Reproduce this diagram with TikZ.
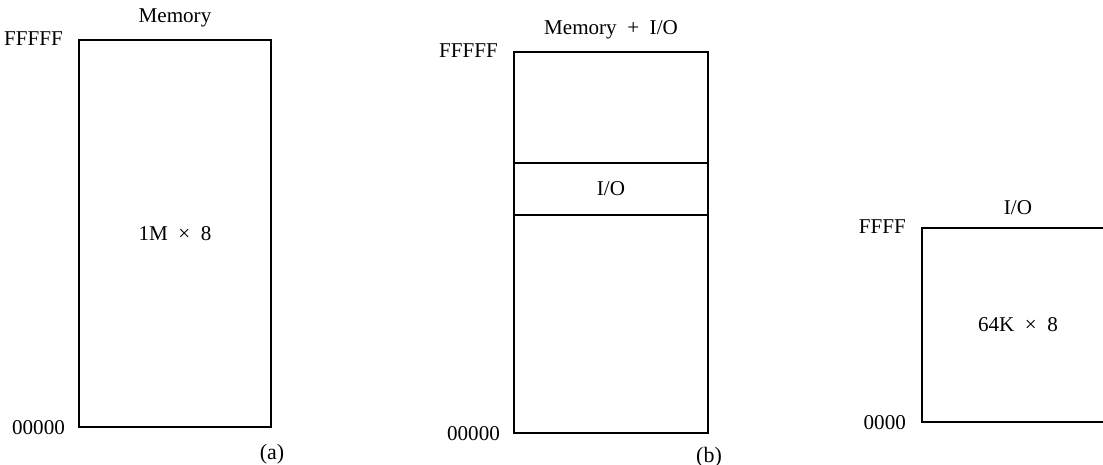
\documentclass[tikz,border=0pt]{standalone}
\usepackage{fontspec}
\setmainfont{Liberation Serif}
\usetikzlibrary{positioning}
\tikzset{
  mapbox/.style={draw=black,line width=1.2pt,inner sep=0pt,
    font=\fontsize{12}{14}\selectfont},
  bandbox/.style={draw=black,line width=1.2pt,inner sep=0pt,
    font=\fontsize{12}{14}\selectfont},
  addrlbl/.style={font=\fontsize{12}{14}\selectfont,inner sep=1pt},
  titlelbl/.style={font=\fontsize{12}{14}\selectfont,inner sep=1pt},
  partlbl/.style={font=\fontsize{12.5}{14}\selectfont,inner sep=1pt},
}
\begin{document}
\begin{tikzpicture}[x=0.02cm,y=-0.02cm]
  \useasboundingbox (0,0) rectangle (1103,465);
  \clip (0,0) rectangle (1103,465);
  % (a) memory space only
  \node[mapbox,minimum width=3.84cm,minimum height=7.74cm] (mema) at (175,233.5) {1M\ \ ×\ \ 8};
  \node[titlelbl,above=2mm of mema.north] (titlea) {Memory};
  \node[addrlbl,left=2.6mm of mema.north west] (topa) {FFFFF};
  \node[addrlbl,left=2.2mm of mema.south west] (bota) {00000};
  \node[partlbl,below=2.9mm of mema.south east] (parta) {(a)};
  % (b) memory with I/O inside it
  \node[mapbox,minimum width=3.88cm,minimum height=7.62cm] (memb) at (611,242.5) {};
  \node[bandbox,minimum width=3.88cm,minimum height=1.04cm] (iob) at (611,189) {I/O};
  \node[titlelbl,above=2mm of memb.north] (titleb) {Memory \ + \ I/O};
  \node[addrlbl,left=2.6mm of memb.north west] (topb) {FFFFF};
  \node[addrlbl,left=2.2mm of memb.south west] (botb) {00000};
  \node[partlbl,below=2.2mm of memb.south east] (partb) {(b)};
  % (c) separate I/O space
  \node[mapbox,minimum width=3.84cm,minimum height=3.88cm] (ioc) at (1018,325) {64K\ \ ×\ \ 8};
  \node[titlelbl,above=2mm of ioc.north] (titlec) {I/O};
  \node[addrlbl,left=2.6mm of ioc.north west] (topc) {FFFF};
  \node[addrlbl,left=2.6mm of ioc.south west] (botc) {0000};
\end{tikzpicture}
\end{document}
